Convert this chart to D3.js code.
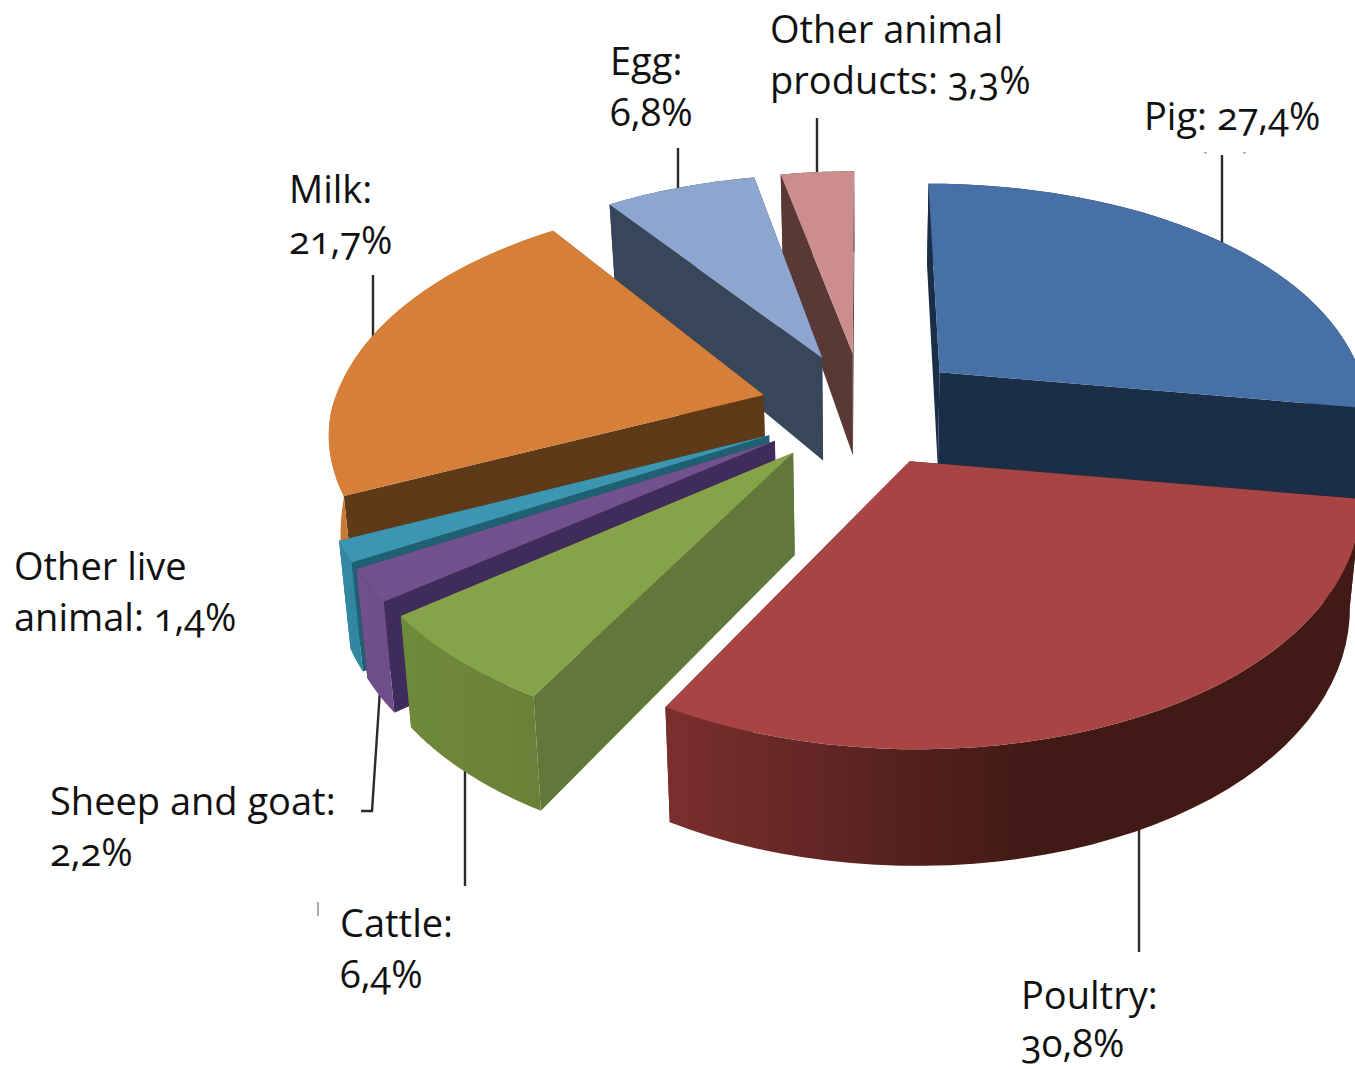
<!DOCTYPE html>
<html><head><meta charset="utf-8">
<script src="https://cdnjs.cloudflare.com/ajax/libs/d3/7.8.5/d3.min.js"></script>
<style>
html,body{margin:0;padding:0;background:#fff;overflow:hidden}
text{font-family:"Open Sans",sans-serif;font-size:38px;fill:#111;font-variant-numeric:oldstyle-nums;font-feature-settings:"onum" 1;}
</style></head><body><svg id="c" width="1355" height="1069"></svg>
<script>
const categories=["Pig","Poultry","Cattle","Sheep and goat","Other live animal","Milk","Egg","Other animal products"];
const values=[27.4,30.8,6.4,2.2,1.4,21.7,6.8,3.3];
const topColors=["#4670A6","#A84443","#87A349","#71528F","#3C96B2","#D67F38","#8EA6CF","#CC8D8D"];
const radialColors=["#1A2E48","#431A16","#62773A","#3F2C5A","#1F6072","#5F3A18","#38465A","#5A3836"];
const outerFrom=["#1A2E48","#7A2F2E","#6F8A3A","#71508B","#3489A3","#C87A36","#38465A","#5A3836"];
const outerTo=["#1A2E48","#421A15","#6A8038","#6D4E88","#2F86A0","#C87A36","#38465A","#5A3836"];
const labelLines=[["Pig: 27,4%"],["Poultry:","30,8%"],["Cattle:","6,4%"],["Sheep and goat:","2,2%"],["Other live","animal: 1,4%"],["Milk:","21,7%"],["Egg:","6,8%"],["Other animal","products: 3,3%"]];

// layout
const svg=d3.select("#c"), defs=svg.append("defs");
const CX=863,CY=410,R=432,EXPLODE=0.24;
const wallH=d3.scaleLinear().domain([-1.25,-0.5,-0.15,0.02,0.14,0.2,0.3,1.25]).clamp(true).range([117,108,102,90,93,103,100,80]);
function project(u,v){
  const x=CX+R*u/(1+(v<0?0.14:0.1735)*v);
  const y=v>=0?CY-250*v/(1+0.24*v):CY-v*(228-42*v);
  return [x,y];
}
function bottom(u,v){const p=project(u,v);return [p[0]-(p[0]-CX)*0.022,p[1]+wallH(v)];}

const arcs=d3.pie().sort(null).startAngle(0).endAngle(2*Math.PI)(values);
const line=d3.line();
const slices=arcs.map((a,i)=>{
  const mid=(a.startAngle+a.endAngle)/2, ou=EXPLODE*Math.sin(mid), ov=EXPLODE*Math.cos(mid);
  const pts=d3.range(0,41).map(k=>{const t=a.startAngle+(a.endAngle-a.startAngle)*k/40;return [ou+Math.sin(t),ov+Math.cos(t)];});
  return {i,a,apex:[ou,ov],pts};
});

// leaders (under the pie)
const leaders=[[[1222,155],[1222,250]],[[1139,825],[1139,952]],[[465,765],[465,886]],[[380,690],[372,811],[361,811]],[[373,275],[373,345]],[[678,148],[678,195]],[[817,118],[817,178]]];
leaders.forEach(l=>svg.append("path").attr("d",line(l)).attr("fill","none").attr("stroke","#2a2a2a").attr("stroke-width",2.4));
// small scan remnants
[[1204,152,3,1.5],[1243,152,3,1.5],[317,902,2,14]].forEach(r=>svg.append("rect").attr("x",r[0]).attr("y",r[1]).attr("width",r[2]).attr("height",r[3]).attr("fill","#aaa"));

const order=[7,6,0,5,4,3,2,1];
order.forEach(i=>{
  const s=slices[i],g=svg.append("g").attr("class","slice");
  const top=s.pts.map(p=>project(p[0],p[1])), bot=s.pts.map(p=>bottom(p[0],p[1]));
  const at=project(...s.apex), ab=bottom(...s.apex);
  const xs=top.concat(bot).map(d=>d[0]);
  const gid="o"+i;
  const gr=defs.append("linearGradient").attr("id",gid).attr("gradientUnits","userSpaceOnUse")
    .attr("x1",d3.min(xs)).attr("x2",i===1?d3.min(xs)+360:d3.max(xs)).attr("y1",0).attr("y2",0);
  gr.append("stop").attr("offset",0).attr("stop-color",outerFrom[i]);
  gr.append("stop").attr("offset",1).attr("stop-color",outerTo[i]);
  g.append("path").attr("d",line([at,top[0],bot[0],ab])+"Z").attr("fill",radialColors[i]);
  g.append("path").attr("d",line([at,top[40],bot[40],ab])+"Z").attr("fill",radialColors[i]);
  g.append("path").attr("d",line(top.concat(bot.slice().reverse()))+"Z").attr("fill",`url(#${gid})`);
  g.append("path").attr("d",line([at].concat(top))+"Z").attr("fill",topColors[i]);
});

// labels
const labelPos=[[1144,130],[1021,1009],[340,937],[50,815],[14,580],[289,203],[610,75],[770,43]];
const lineGap=[51,48,51,51,51,51,51,51];
labelLines.forEach((ls,i)=>{
  const t=svg.append("text").attr("x",labelPos[i][0]).attr("y",labelPos[i][1]);
  ls.forEach((s,k)=>t.append("tspan").attr("x",labelPos[i][0]).attr("dy",k?lineGap[i]:0).text(s));
});
</script></body></html>
